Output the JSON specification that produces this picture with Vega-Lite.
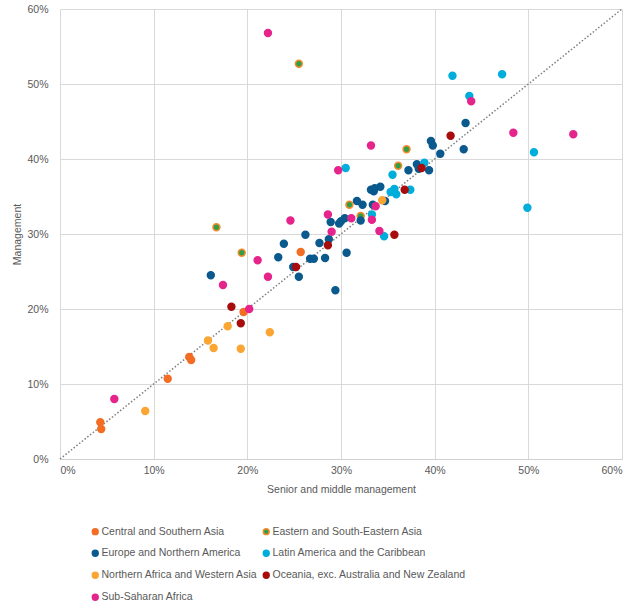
{
  "$schema": "https://vega.github.io/schema/vega-lite/v6.json",
  "width": 562,
  "height": 450,
  "autosize": "none",
  "padding": {"left": 60, "top": 9, "right": 21, "bottom": 150},
  "background": "white",
  "config": {
    "view": {"stroke": null},
    "font": "Liberation Sans",
    "axis": {"labelFont": "Liberation Sans", "titleFont": "Liberation Sans", "labelFontSize": 10.5, "titleFontSize": 10.5, "labelColor": "#595959", "titleColor": "#595959", "titleFontWeight": "normal", "gridColor": "#d9d9d9", "gridWidth": 1, "ticks": false, "domain": false},
    "legend": {"labelFont": "Liberation Sans", "labelFontSize": 10.5, "labelColor": "#595959", "labelLimit": 400}
  },
  "datasets": {
    "pts": [
      {"r": "Central and Southern Asia", "x": 0.257, "y": 0.276},
      {"r": "Central and Southern Asia", "x": 0.196, "y": 0.196},
      {"r": "Central and Southern Asia", "x": 0.138, "y": 0.136},
      {"r": "Central and Southern Asia", "x": 0.140, "y": 0.132},
      {"r": "Central and Southern Asia", "x": 0.115, "y": 0.107},
      {"r": "Central and Southern Asia", "x": 0.043, "y": 0.049},
      {"r": "Central and Southern Asia", "x": 0.044, "y": 0.040},
      {"r": "Eastern and South-Eastern Asia", "x": 0.255, "y": 0.527},
      {"r": "Eastern and South-Eastern Asia", "x": 0.167, "y": 0.309},
      {"r": "Eastern and South-Eastern Asia", "x": 0.194, "y": 0.275},
      {"r": "Eastern and South-Eastern Asia", "x": 0.370, "y": 0.413},
      {"r": "Eastern and South-Eastern Asia", "x": 0.361, "y": 0.391},
      {"r": "Eastern and South-Eastern Asia", "x": 0.309, "y": 0.339},
      {"r": "Eastern and South-Eastern Asia", "x": 0.321, "y": 0.324},
      {"r": "Europe and Northern America", "x": 0.433, "y": 0.448},
      {"r": "Europe and Northern America", "x": 0.396, "y": 0.424},
      {"r": "Europe and Northern America", "x": 0.398, "y": 0.418},
      {"r": "Europe and Northern America", "x": 0.406, "y": 0.407},
      {"r": "Europe and Northern America", "x": 0.431, "y": 0.413},
      {"r": "Europe and Northern America", "x": 0.381, "y": 0.393},
      {"r": "Europe and Northern America", "x": 0.383, "y": 0.387},
      {"r": "Europe and Northern America", "x": 0.394, "y": 0.385},
      {"r": "Europe and Northern America", "x": 0.372, "y": 0.385},
      {"r": "Europe and Northern America", "x": 0.342, "y": 0.363},
      {"r": "Europe and Northern America", "x": 0.332, "y": 0.359},
      {"r": "Europe and Northern America", "x": 0.335, "y": 0.357},
      {"r": "Europe and Northern America", "x": 0.336, "y": 0.361},
      {"r": "Europe and Northern America", "x": 0.317, "y": 0.344},
      {"r": "Europe and Northern America", "x": 0.323, "y": 0.339},
      {"r": "Europe and Northern America", "x": 0.334, "y": 0.339},
      {"r": "Europe and Northern America", "x": 0.347, "y": 0.344},
      {"r": "Europe and Northern America", "x": 0.321, "y": 0.318},
      {"r": "Europe and Northern America", "x": 0.304, "y": 0.321},
      {"r": "Europe and Northern America", "x": 0.300, "y": 0.317},
      {"r": "Europe and Northern America", "x": 0.298, "y": 0.314},
      {"r": "Europe and Northern America", "x": 0.289, "y": 0.316},
      {"r": "Europe and Northern America", "x": 0.262, "y": 0.299},
      {"r": "Europe and Northern America", "x": 0.287, "y": 0.293},
      {"r": "Europe and Northern America", "x": 0.277, "y": 0.288},
      {"r": "Europe and Northern America", "x": 0.306, "y": 0.275},
      {"r": "Europe and Northern America", "x": 0.267, "y": 0.267},
      {"r": "Europe and Northern America", "x": 0.271, "y": 0.267},
      {"r": "Europe and Northern America", "x": 0.283, "y": 0.268},
      {"r": "Europe and Northern America", "x": 0.255, "y": 0.243},
      {"r": "Europe and Northern America", "x": 0.294, "y": 0.225},
      {"r": "Europe and Northern America", "x": 0.239, "y": 0.287},
      {"r": "Europe and Northern America", "x": 0.233, "y": 0.269},
      {"r": "Europe and Northern America", "x": 0.249, "y": 0.256},
      {"r": "Europe and Northern America", "x": 0.161, "y": 0.245},
      {"r": "Latin America and the Caribbean", "x": 0.419, "y": 0.511},
      {"r": "Latin America and the Caribbean", "x": 0.472, "y": 0.513},
      {"r": "Latin America and the Caribbean", "x": 0.437, "y": 0.484},
      {"r": "Latin America and the Caribbean", "x": 0.506, "y": 0.409},
      {"r": "Latin America and the Caribbean", "x": 0.499, "y": 0.335},
      {"r": "Latin America and the Caribbean", "x": 0.305, "y": 0.388},
      {"r": "Latin America and the Caribbean", "x": 0.389, "y": 0.395},
      {"r": "Latin America and the Caribbean", "x": 0.355, "y": 0.379},
      {"r": "Latin America and the Caribbean", "x": 0.357, "y": 0.360},
      {"r": "Latin America and the Caribbean", "x": 0.353, "y": 0.356},
      {"r": "Latin America and the Caribbean", "x": 0.359, "y": 0.353},
      {"r": "Latin America and the Caribbean", "x": 0.374, "y": 0.359},
      {"r": "Latin America and the Caribbean", "x": 0.333, "y": 0.326},
      {"r": "Latin America and the Caribbean", "x": 0.346, "y": 0.297},
      {"r": "Northern Africa and Western Asia", "x": 0.224, "y": 0.169},
      {"r": "Northern Africa and Western Asia", "x": 0.179, "y": 0.177},
      {"r": "Northern Africa and Western Asia", "x": 0.158, "y": 0.158},
      {"r": "Northern Africa and Western Asia", "x": 0.164, "y": 0.148},
      {"r": "Northern Africa and Western Asia", "x": 0.193, "y": 0.147},
      {"r": "Northern Africa and Western Asia", "x": 0.091, "y": 0.064},
      {"r": "Northern Africa and Western Asia", "x": 0.344, "y": 0.345},
      {"r": "Oceania, exc. Australia and New Zealand", "x": 0.417, "y": 0.431},
      {"r": "Oceania, exc. Australia and New Zealand", "x": 0.386, "y": 0.388},
      {"r": "Oceania, exc. Australia and New Zealand", "x": 0.368, "y": 0.359},
      {"r": "Oceania, exc. Australia and New Zealand", "x": 0.357, "y": 0.299},
      {"r": "Oceania, exc. Australia and New Zealand", "x": 0.286, "y": 0.285},
      {"r": "Oceania, exc. Australia and New Zealand", "x": 0.252, "y": 0.256},
      {"r": "Oceania, exc. Australia and New Zealand", "x": 0.183, "y": 0.203},
      {"r": "Oceania, exc. Australia and New Zealand", "x": 0.193, "y": 0.181},
      {"r": "Sub-Saharan Africa", "x": 0.222, "y": 0.568},
      {"r": "Sub-Saharan Africa", "x": 0.332, "y": 0.418},
      {"r": "Sub-Saharan Africa", "x": 0.297, "y": 0.385},
      {"r": "Sub-Saharan Africa", "x": 0.439, "y": 0.477},
      {"r": "Sub-Saharan Africa", "x": 0.484, "y": 0.435},
      {"r": "Sub-Saharan Africa", "x": 0.548, "y": 0.433},
      {"r": "Sub-Saharan Africa", "x": 0.286, "y": 0.326},
      {"r": "Sub-Saharan Africa", "x": 0.290, "y": 0.303},
      {"r": "Sub-Saharan Africa", "x": 0.311, "y": 0.321},
      {"r": "Sub-Saharan Africa", "x": 0.337, "y": 0.337},
      {"r": "Sub-Saharan Africa", "x": 0.333, "y": 0.319},
      {"r": "Sub-Saharan Africa", "x": 0.341, "y": 0.304},
      {"r": "Sub-Saharan Africa", "x": 0.246, "y": 0.318},
      {"r": "Sub-Saharan Africa", "x": 0.211, "y": 0.265},
      {"r": "Sub-Saharan Africa", "x": 0.222, "y": 0.243},
      {"r": "Sub-Saharan Africa", "x": 0.174, "y": 0.232},
      {"r": "Sub-Saharan Africa", "x": 0.202, "y": 0.200},
      {"r": "Sub-Saharan Africa", "x": 0.058, "y": 0.080}
    ],
    "diag": [
      {"x": 0, "y": 0},
      {"x": 0.6, "y": 0.6}
    ]
  },
  "layer": [
    {
      "data": {"name": "diag"},
      "mark": {"type": "line", "color": "#7f7f7f", "strokeWidth": 1.5, "strokeDash": [1.5, 2]},
      "encoding": {
        "x": {"field": "x", "type": "quantitative", "scale": {"domain": [0, 0.6], "nice": false}, "axis": {"values": [0, 0.1, 0.2, 0.3, 0.4, 0.5, 0.6], "format": ".0%", "title": "Senior and middle management", "labelPadding": 6, "titlePadding": 9, "domain": true, "domainColor": "#d0d0d0"}},
        "y": {"field": "y", "type": "quantitative", "scale": {"domain": [0, 0.6], "nice": false}, "axis": {"values": [0, 0.1, 0.2, 0.3, 0.4, 0.5, 0.6], "format": ".0%", "title": "Management", "labelPadding": 12, "titlePadding": 4}}
      }
    },
    {
      "data": {"name": "pts"},
      "mark": {"type": "point", "shape": "circle", "filled": true, "opacity": 1, "size": 48, "strokeWidth": 1.5},
      "encoding": {
        "x": {"field": "x", "type": "quantitative"},
        "y": {"field": "y", "type": "quantitative"},
        "fill": {"field": "r", "type": "nominal", "title": null,
          "scale": {"domain": ["Central and Southern Asia", "Eastern and South-Eastern Asia", "Europe and Northern America", "Latin America and the Caribbean", "Northern Africa and Western Asia", "Oceania, exc. Australia and New Zealand", "Sub-Saharan Africa"],
                    "range": ["#f36d25", "#2f9e48", "#0a5a8e", "#00aedb", "#fba533", "#a80d0d", "#e5248c"]},
          "legend": {"orient": "none", "legendX": 30, "legendY": 517, "columns": 2, "symbolSize": 34, "symbolType": "circle", "rowPadding": 9, "columnPadding": 2, "labelOffset": 1, "direction": "horizontal"}},
        "stroke": {"field": "r", "type": "nominal", "title": null,
          "scale": {"domain": ["Central and Southern Asia", "Eastern and South-Eastern Asia", "Europe and Northern America", "Latin America and the Caribbean", "Northern Africa and Western Asia", "Oceania, exc. Australia and New Zealand", "Sub-Saharan Africa"],
                    "range": ["#f36d25", "#f58a2a", "#0a5a8e", "#00aedb", "#fba533", "#a80d0d", "#e5248c"]},
          "legend": {"orient": "none", "legendX": 30, "legendY": 517, "columns": 2, "symbolSize": 34, "symbolType": "circle", "rowPadding": 9, "columnPadding": 2, "labelOffset": 1, "direction": "horizontal"}}
      }
    }
  ]
}
